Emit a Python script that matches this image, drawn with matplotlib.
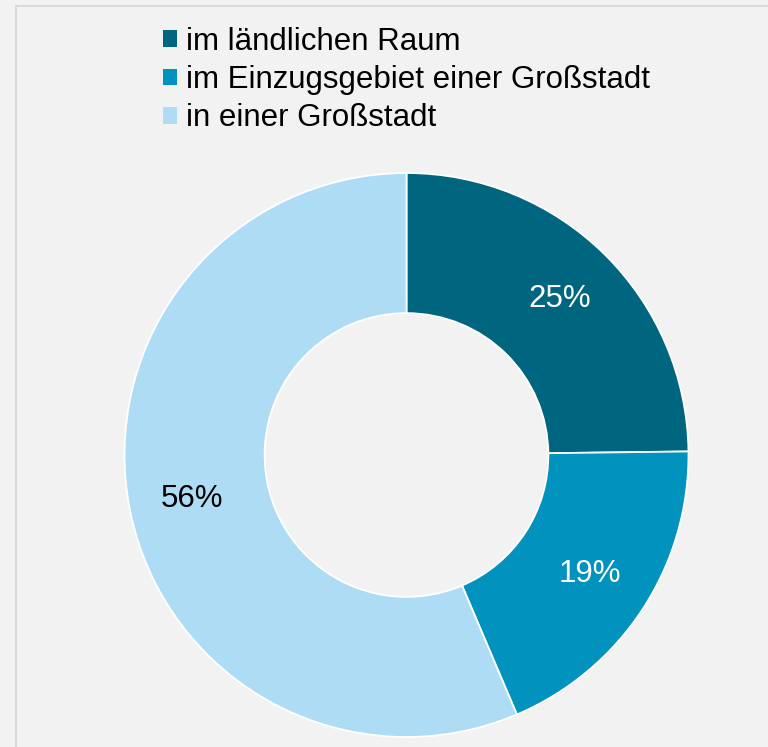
import numpy as np
import matplotlib
matplotlib.use('Agg')
import matplotlib.pyplot as plt
from matplotlib.lines import Line2D

plt.rcParams['font.family'] = ['Liberation Sans', 'DejaVu Sans']

# data
labels = ['im ländlichen Raum', 'im Einzugsgebiet einer Großstadt', 'in einer Großstadt']
shares = [24.8, 18.8, 56.4]
shown = ['25%', '19%', '56%']
colors = ['#006680', '#0292BE', '#AEDCF5']
text_colors = ['white', 'white', 'black']

W, H = 768, 747
bg = '#F2F2F2'
fig = plt.figure(figsize=(W / 100, H / 100), dpi=100, facecolor=bg)

# donut: centre (406.5, 455) px, outer radius 282 px
cx, cy, r = 406.5, 455, 282
ax = fig.add_axes([(cx - r) / W, (H - cy - r) / H, 2 * r / W, 2 * r / H])
ax.set_facecolor(bg)

wedges, texts, autotexts = ax.pie(
    shares, colors=colors, startangle=90, counterclock=False,
    radius=1, autopct='%1.0f%%', pctdistance=0.775,
    wedgeprops=dict(width=0.497, edgecolor='white', linewidth=1.3),
    textprops=dict(fontsize=22.5))
for t, s, c in zip(autotexts, shown, text_colors):
    t.set_text(s)
    t.set_color(c)
ax.set_xlim(-1, 1)
ax.set_ylim(-1, 1)
ax.set_aspect('equal')
ax.axis('off')

leg = fig.legend(wedges, labels, loc='upper left',
                 bbox_to_anchor=(163 / W, 1 - 27 / H),
                 frameon=False, fontsize=22.5, borderpad=0, borderaxespad=0,
                 handlelength=0.45, handleheight=0.45, handletextpad=0.3,
                 labelspacing=0.26)
for h in leg.legend_handles:
    h.set_edgecolor('none')

# light frame lines at left and top
fig.add_artist(Line2D([16 / W, 16 / W], [0, 1 - 6 / H], transform=fig.transFigure,
                      color='#D9D9D9', linewidth=1.5))
fig.add_artist(Line2D([16 / W, 1], [1 - 6 / H, 1 - 6 / H], transform=fig.transFigure,
                      color='#D9D9D9', linewidth=1.5))

fig.savefig('out.png', dpi=100, facecolor=bg)
